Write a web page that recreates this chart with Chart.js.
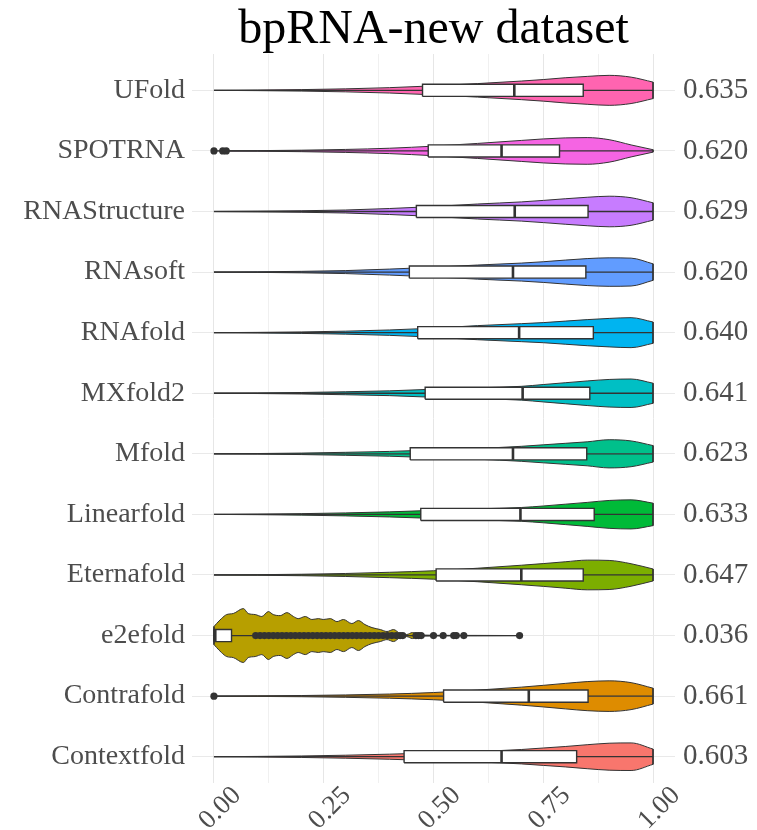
<!DOCTYPE html>
<html>
<head>
<meta charset="utf-8">
<script src="https://cdn.jsdelivr.net/npm/chart.js@4.4.1/dist/chart.umd.min.js"></script>
<style>
  html, body { margin: 0; padding: 0; background: #fff; }
  #wrap { width: 757px; height: 830px; }
</style>
</head>
<body>
<div id="wrap"><canvas id="violinChart"></canvas></div>
<script>
// methods, top to bottom as drawn
const methods = ['UFold', 'SPOTRNA', 'RNAStructure', 'RNAsoft', 'RNAfold', 'MXfold2',
  'Mfold', 'Linearfold', 'Eternafold', 'e2efold', 'Contrafold', 'Contextfold'];
const meanScore = [0.635, 0.620, 0.629, 0.620, 0.640, 0.641, 0.623, 0.633, 0.647, 0.036, 0.661, 0.603];

// boxplot stats
const q1 = [0.475, 0.488, 0.461, 0.445, 0.464, 0.481, 0.447, 0.471, 0.506, 0.000, 0.523, 0.433];
const median = [0.684, 0.655, 0.685, 0.681, 0.695, 0.703, 0.681, 0.698, 0.700, 0.003, 0.717, 0.655];
const q3 = [0.841, 0.787, 0.852, 0.847, 0.864, 0.856, 0.849, 0.866, 0.841, 0.040, 0.852, 0.826];
const rangeLo = [0, 0.03, 0, 0, 0, 0, 0, 0, 0, 0, 0.005, 0];
const rangeHi = [1, 1, 1, 1, 1, 1, 1, 1, 1, 0.696, 1, 1];

const outliers = [
  [], [0.0, 0.02, 0.028], [], [], [], [], [], [], [],
  [0.095, 0.105, 0.115, 0.125, 0.135, 0.145, 0.155, 0.165, 0.175, 0.185, 0.195,
   0.205, 0.215, 0.225, 0.235, 0.245, 0.255, 0.265, 0.275, 0.285, 0.295, 0.305,
   0.315, 0.325, 0.335, 0.345, 0.355, 0.365, 0.375, 0.385, 0.395, 0.405, 0.415,
   0.424, 0.430, 0.460, 0.466, 0.472, 0.500, 0.522, 0.546, 0.552, 0.569, 0.696],
  [0.0], []
];

// violin half-widths (relative density)
const densX = [0, 0.1, 0.2, 0.3, 0.4, 0.5, 0.6, 0.7, 0.75, 0.8, 0.85, 0.9, 0.95, 1.0];
const e2eX = [0, 0.006, 0.017, 0.029, 0.044, 0.067, 0.078, 0.094, 0.109, 0.124, 0.135, 0.151,
  0.166, 0.181, 0.192, 0.208, 0.223, 0.238, 0.249, 0.265, 0.28, 0.295, 0.314, 0.329, 0.344,
  0.36, 0.379, 0.394, 0.409, 0.424, 0.439, 0.452, 0.466, 0.48, 0.5, 0.55, 0.6, 0.696];
const e2eDensity = [0.6, 0.8, 1.13, 1.4, 1.47, 1.8, 1.47, 1.4, 1.27, 1.6, 1.4, 1.33, 1.53, 1.27,
  1.13, 1.27, 1.07, 1.13, 1.07, 1.13, 0.93, 1.07, 0.8, 1.0, 0.73, 0.53, 0.4, 0.27, 0.4, 0.13,
  0.07, 0.2, 0.07, 0.03, 0.02, 0.01, 0.01, 0];
const density = [
  [0, .02, .05, .1, .18, .3, .45, .62, .72, .84, .93, 1.0, .88, .55],
  [0, .02, .05, .1, .18, .32, .5, .7, .8, .87, .89, .75, .4, .08],
  [0, .02, .05, .1, .2, .33, .5, .64, .74, .85, .95, 1.02, .92, .58],
  [0, .02, .05, .1, .2, .32, .47, .6, .69, .8, .9, .95, .93, .55],
  [0, .02, .05, .1, .18, .3, .47, .6, .67, .77, .87, .95, 1.0, .71],
  [0, .02, .05, .1, .16, .27, .36, .46, .58, .7, .82, .92, .95, .67],
  [0, .02, .05, .1, .16, .26, .36, .5, .6, .7, .8, .94, .86, .55],
  [0, .02, .05, .1, .17, .27, .37, .46, .56, .68, .8, .93, .97, .75],
  [0, .02, .05, .1, .18, .28, .45, .65, .76, .88, .99, .97, .75, .4],
  e2eDensity,
  [0, .02, .04, .08, .14, .24, .4, .6, .72, .85, .97, 1.02, .9, .53],
  [0, .02, .05, .1, .17, .26, .35, .48, .58, .68, .8, .9, .92, .51]
];
const gridX = methods.map(m => m === 'e2efold' ? e2eX : densX);

const xTickValues = [0, 0.125, 0.25, 0.375, 0.5, 0.625, 0.75, 0.875, 1];

const fills = ['#FF64B0', '#F564E3', '#C77CFF', '#619CFF', '#00B4F0', '#00BFC4',
  '#00C08B', '#00BA38', '#7CAE00', '#B79F00', '#DE8C00', '#F8766D'];

const SERIF = '"Liberation Serif", "Times New Roman", serif';
const INK = '#333333';
const WIDTH_SCALE = 0.2475;  // density 1.0 -> ~15px half-width
const BOX_HALF = 0.1;

const n = methods.length;
const datasets = [];

function seg(points, extra) {
  return Object.assign({
    data: points, borderColor: INK, borderWidth: 1, pointRadius: 0,
    fill: false, tension: 0
  }, extra);
}

methods.forEach((name, i) => {
  const yc = n - i;
  const xs = gridX[i];
  const ws = density[i];

  // violin halves, each filled to the centre line
  [1, -1].forEach(sign => {
    datasets.push(seg(xs.map((x, k) => ({ x: x, y: yc + sign * ws[k] * WIDTH_SCALE })), {
      fill: { value: yc }, backgroundColor: fills[i], borderWidth: 1,
      cubicInterpolationMode: 'monotone', order: 60
    }));
  });
  // flat ends of trimmed violins
  [0, xs.length - 1].forEach(k => {
    if (ws[k] > 0) {
      datasets.push(seg([{ x: xs[k], y: yc + ws[k] * WIDTH_SCALE }, { x: xs[k], y: yc - ws[k] * WIDTH_SCALE }],
        { borderWidth: 1, order: 59 }));
    }
  });

  // range line
  datasets.push(seg([{ x: rangeLo[i], y: yc }, { x: rangeHi[i], y: yc }], { borderWidth: 1.3, order: 50 }));

  // box: white fill, outline, median
  datasets.push(seg([{ x: q1[i], y: yc + BOX_HALF }, { x: q3[i], y: yc + BOX_HALF }], {
    fill: { value: yc - BOX_HALF }, backgroundColor: '#ffffff', borderWidth: 0, order: 40
  }));
  datasets.push(seg([
    { x: q1[i], y: yc - BOX_HALF }, { x: q3[i], y: yc - BOX_HALF }, { x: q3[i], y: yc + BOX_HALF },
    { x: q1[i], y: yc + BOX_HALF }, { x: q1[i], y: yc - BOX_HALF }
  ], { borderWidth: 1.4, order: 30 }));
  datasets.push(seg([{ x: median[i], y: yc - BOX_HALF }, { x: median[i], y: yc + BOX_HALF }],
    { borderWidth: 2.6, order: 20 }));

  if (outliers[i].length) {
    datasets.push({
      data: outliers[i].map(v => ({ x: v, y: yc })),
      showLine: false, pointRadius: 3.6, pointBorderWidth: 0,
      pointBackgroundColor: INK, order: 10
    });
  }
});

const isMajor = v => Math.abs(v * 4 - Math.round(v * 4)) < 1e-6;

new Chart(document.getElementById('violinChart'), {
  type: 'line',
  data: { datasets },
  options: {
    responsive: true,
    maintainAspectRatio: false,
    animation: false,
    layout: { padding: 0 },
    plugins: {
      legend: { display: false },
      tooltip: { enabled: false },
      title: {
        display: true,
        text: 'bpRNA-new dataset',
        fullSize: false,
        color: '#000000',
        font: { family: SERIF, size: 48, weight: 'normal', lineHeight: 1.0 },
        padding: { top: 6, bottom: 0 }
      }
    },
    scales: {
      x: {
        type: 'linear',
        min: -0.05,
        max: 1.05,
        afterBuildTicks: s => { s.ticks = xTickValues.map(v => ({ value: v })); },
        afterFit: s => { s.height = 47; },
        border: { display: false },
        grid: {
          drawTicks: false,
          color: c => isMajor(c.tick.value) ? '#e6e6e6' : '#f0f0f0',
          lineWidth: 1
        },
        ticks: {
          autoSkip: false,
          minRotation: 45,
          maxRotation: 45,
          padding: -3,
          labelOffset: 23,
          color: '#4d4d4d',
          font: { family: SERIF, size: 27 },
          callback: v => isMajor(v) ? v.toFixed(2) : ''
        }
      },
      y: {
        type: 'linear',
        position: 'left',
        min: 0.566,
        max: n + 0.6,
        afterBuildTicks: s => { s.ticks = methods.map((m, i) => ({ value: n - i })); },
        afterFit: s => { s.width = 192; },
        border: { display: false },
        grid: { drawTicks: false, color: '#e9e9e9', lineWidth: 1 },
        ticks: {
          autoSkip: false,
          padding: 7,
          color: '#4d4d4d',
          font: { family: SERIF, size: 28 },
          callback: v => methods[n - v]
        }
      },
      yScore: {
        type: 'linear',
        position: 'right',
        min: 0.566,
        max: n + 0.6,
        afterBuildTicks: s => { s.ticks = methods.map((m, i) => ({ value: n - i })); },
        afterFit: s => { s.width = 82; },
        border: { display: false },
        grid: { display: false, drawTicks: false },
        ticks: {
          autoSkip: false,
          padding: 8,
          color: '#4d4d4d',
          font: { family: SERIF, size: 29 },
          callback: v => meanScore[n - v].toFixed(3)
        }
      }
    }
  }
});
</script>
</body>
</html>
